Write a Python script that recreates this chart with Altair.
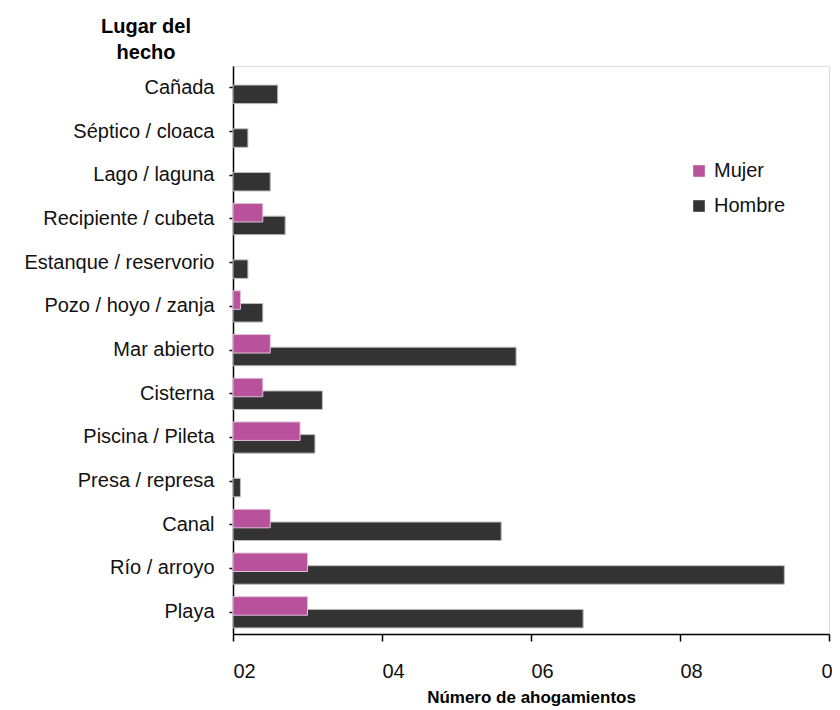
import altair as alt
import pandas as pd

lugares = ["Cañada", "Séptico / cloaca", "Lago / laguna", "Recipiente / cubeta",
           "Estanque / reservorio", "Pozo / hoyo / zanja", "Mar abierto", "Cisterna",
           "Piscina / Pileta", "Presa / represa", "Canal", "Río / arroyo", "Playa"]
hombre = [6, 2, 5, 7, 2, 4, 38, 12, 11, 1, 36, 74, 47]
mujer = [0, 0, 0, 4, 0, 1, 5, 4, 9, 0, 5, 10, 10]
series = ["Mujer", "Hombre"]
colores = ["#B8529C", "#333333"]
tick_values = [0, 20, 40, 60, 80]
tick_labels = ["02", "04", "06", "08", "0"]

rows = []
for l, h, m in zip(lugares, hombre, mujer):
    rows.append({"lugar": l, "sexo": "Hombre", "valor": h})
    rows.append({"lugar": l, "sexo": "Mujer", "valor": m})
df = pd.DataFrame(rows)

label_expr = " : ".join(
    f"datum.value == {v} ? '{t}'" for v, t in zip(tick_values, tick_labels)
) + " : ''"

FONT = "Liberation Sans"

x = alt.X("valor:Q",
          scale=alt.Scale(domain=[0, 80], nice=False),
          axis=alt.Axis(values=tick_values, labelExpr=label_expr, grid=False,
                        title="Número de ahogamientos", titleFontWeight="bold",
                        titleFontSize=17, titlePadding=8, titleColor="#000", titleFont=FONT,
                        labelFontSize=20, labelColor="#111", labelFont=FONT,
                        labelAlign="left", labelPadding=20, tickSize=7, tickColor="#000",
                        labelOffset={"condition": {"test": f"datum.value == {tick_values[-1]}",
                                                   "value": -8}, "value": 0},
                        domainColor="#000", domainWidth=1.5, tickWidth=1.5,
                        labelFlush=False, labelBound=False))
y = alt.Y("lugar:N", sort=lugares,
          scale=alt.Scale(paddingInner=0, paddingOuter=0),
          axis=alt.Axis(title=None, labelFontSize=20, labelColor="#111", labelFont=FONT,
                        labelPadding=15, labelLimit=0, tickSize=4, tickColor="#000",
                        tickWidth=1.5, domainColor="#000", domainWidth=1.5, grid=False))
color = alt.Color("sexo:N",
                  scale=alt.Scale(domain=series, range=colores),
                  legend=alt.Legend(title=None, orient="none", legendX=456, legendY=95,
                                    symbolType="square", symbolSize=135,
                                    symbolStrokeWidth=0, labelFontSize=20, labelFont=FONT,
                                    labelColor="#111", rowPadding=15, labelOffset=5))

base = alt.Chart(df).encode(x=x, y=y, color=color)

bars_h = base.transform_filter("datum.sexo == 'Hombre' && datum.valor > 0").mark_bar(
    size=18.5, yOffset=6.5, stroke="#bbbbbb", strokeWidth=1)
bars_m = base.transform_filter("datum.sexo == 'Mujer' && datum.valor > 0").mark_bar(
    size=18.5, yOffset=-6.2, stroke="#e0c0d8", strokeWidth=1)

chart = alt.layer(bars_h, bars_m).properties(
    width=596, height=568,
    autosize="none",
    padding={"left": 225, "top": 58, "right": 3, "bottom": 76},
    title=alt.Title(["Lugar del", "hecho"], anchor="start", frame="group", align="center",
                    baseline="alphabetic", dx=-87, dy=22, fontSize=20, fontWeight="bold",
                    font=FONT, color="#000", lineHeight=26, offset=9),
).configure_view(stroke="transparent", strokeWidth=0).configure(font=FONT)

chart.save("out.html", embed_options={"renderer": "svg", "actions": False})
